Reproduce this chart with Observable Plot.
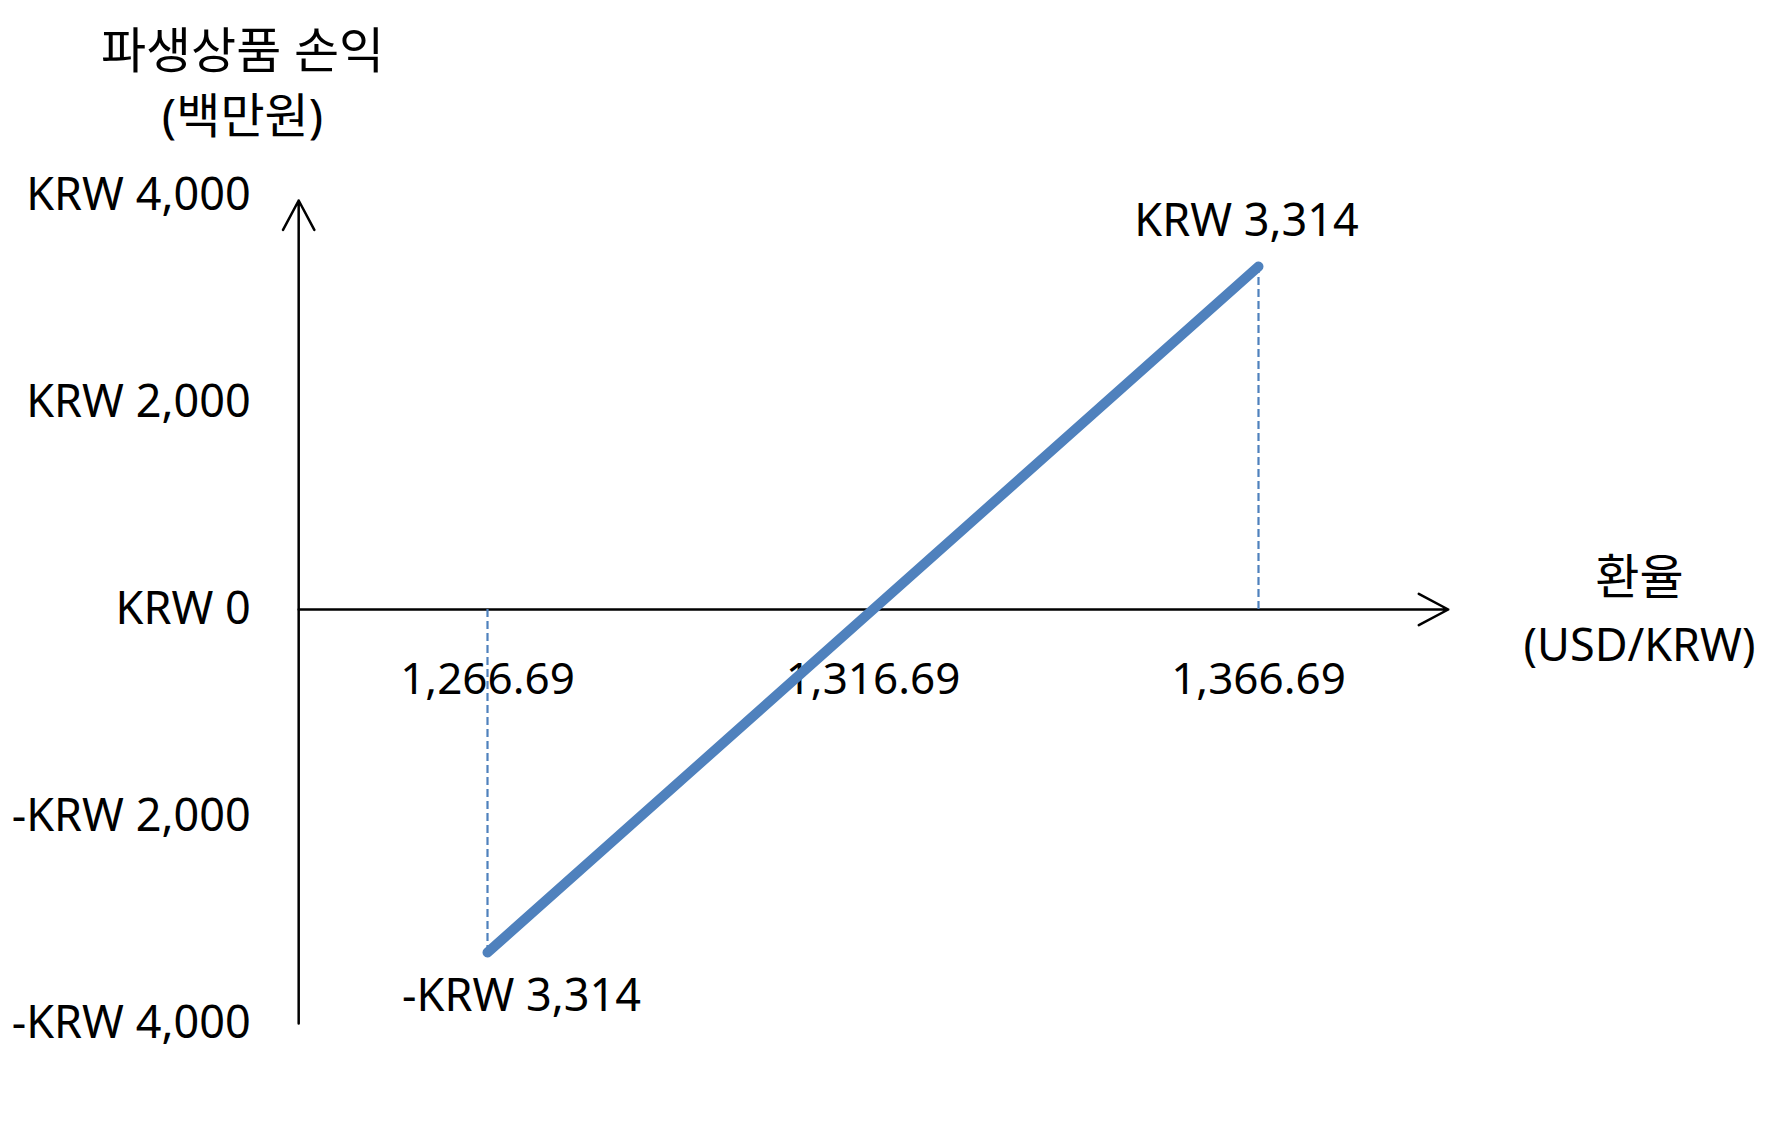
<!DOCTYPE html>
<html><head><meta charset="utf-8">
<script src="https://cdn.jsdelivr.net/npm/d3@7"></script>
<script src="https://cdn.jsdelivr.net/npm/@observablehq/plot@0.6"></script>
<style>body{margin:0;background:#fff}</style>
</head><body><div id="chart"></div>
<script>
// exchange rates (USD/KRW) and derivative P&L (KRW millions)
const rates = [1266.69, 1316.69, 1366.69];
const rateLabels = ["1,266.69", "1,316.69", "1,366.69"];
const payoff = [-3314, 0, 3314];
const payoffLabels = ["-KRW 3,314", "", "KRW 3,314"];
const yTicks = [4000, 2000, 0, -2000, -4000];
const yTickLabels = ["KRW 4,000", "KRW 2,000", "KRW 0", "-KRW 2,000", "-KRW 4,000"];
const xAxisExtent = [1242.2, 1391.3];
const yAxisExtent = [-4000, 3952];
const yTitle = ["파생상품 손익", "(백만원)"];
const xTitle = ["환율", "(USD/KRW)"];

const pts = rates.map((r, i) => ({x: r, y: payoff[i], label: payoffLabels[i]}));
const ends = pts.filter(d => d.y !== 0);
const FONT = "'Noto Sans', 'Noto Sans CJK KR', sans-serif";
const BLUE = "#4F81BD";

const title = (txt, dx, dy, size) =>
  Plot.text([txt], {frameAnchor: "top-left", dx, dy, text: d => d, fontSize: size,
    textAnchor: "middle", lineAnchor: "middle", fill: "black"});

const chart = Plot.plot({
  width: 1767,
  height: 1126,
  margin: 0,
  style: {fontFamily: FONT, background: "white", color: "black"},
  x: {domain: [1266.69, 1366.69], range: [487, 1258], axis: null},
  y: {domain: [-4000, 4000], range: [1023, 195], axis: null},
  marks: [
    // axes with open arrowheads
    Plot.arrow([0], {x1: xAxisExtent[0], x2: xAxisExtent[1], y1: 0, y2: 0,
      stroke: "black", strokeWidth: 2.5, headLength: 20, headAngle: 56}),
    Plot.arrow([0], {x1: xAxisExtent[0], x2: xAxisExtent[0], y1: yAxisExtent[0], y2: yAxisExtent[1],
      stroke: "black", strokeWidth: 2.5, headLength: 20, headAngle: 56}),
    // dashed drop lines
    Plot.ruleX(ends, {x: "x", y1: 0, y2: "y", stroke: BLUE, strokeWidth: 2.2, strokeDasharray: "8,4"}),
    // y tick labels
    Plot.text(yTicks, {x: xAxisExtent[0], y: d => d, text: (d, i) => yTickLabels[i],
      textAnchor: "end", dx: -48, fontSize: 45, fill: "black"}),
    // x tick labels
    Plot.text(rates, {x: d => d, y: 0, text: (d, i) => rateLabels[i], dy: 70, fontSize: 44, fill: "black"}),
    // end value labels
    Plot.text(ends.filter(d => d.y > 0), {x: "x", y: "y", text: "label", dx: -12, dy: -45, fontSize: 45, fill: "black"}),
    Plot.text(ends.filter(d => d.y < 0), {x: "x", y: "y", text: "label", dx: 34, dy: 44, fontSize: 45, fill: "black"}),
    // axis titles
    title(yTitle[0], 242, 52, 49),
    title(yTitle[1], 242, 117, 48),
    title(xTitle[0], 1639, 578, 48),
    title(xTitle[1], 1639, 646, 45),
    // payoff line
    Plot.line(pts, {x: "x", y: "y", stroke: BLUE, strokeWidth: 10, strokeLinecap: "round"})
  ]
});

document.getElementById("chart").appendChild(chart);
</script>
</body></html>
